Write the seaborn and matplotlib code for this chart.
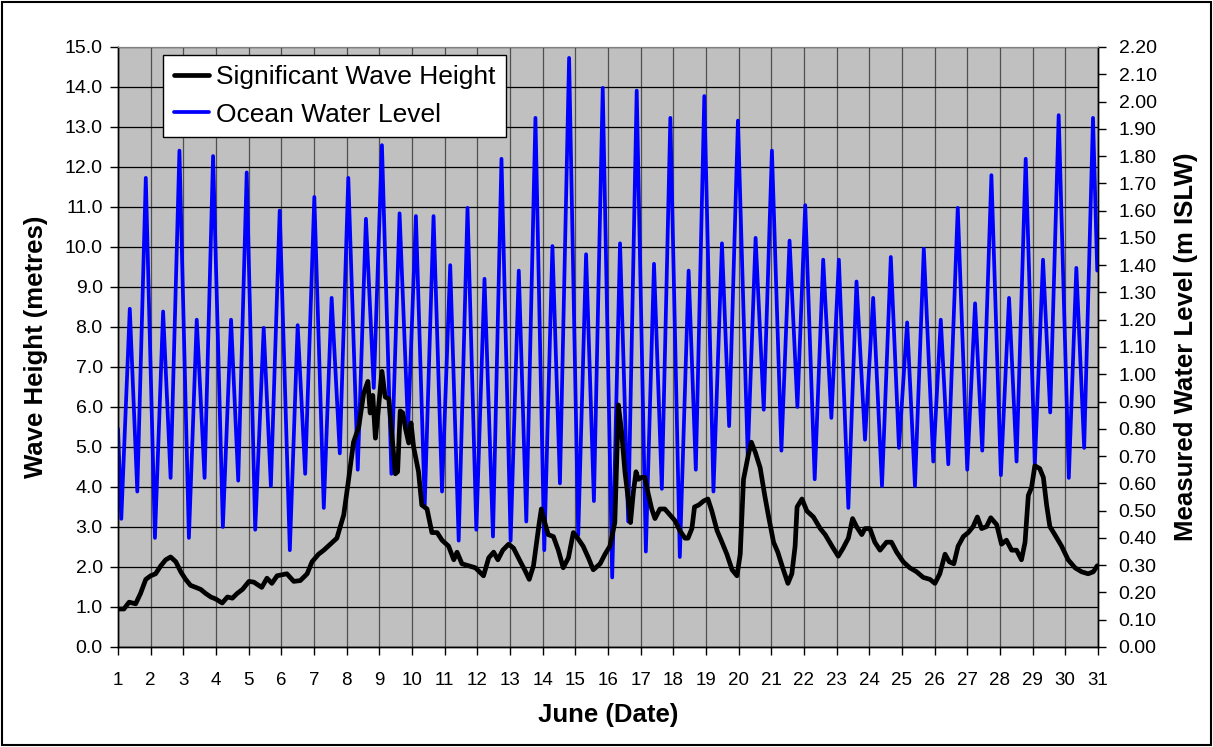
import matplotlib
matplotlib.use("Agg")
import matplotlib.pyplot as plt
import numpy as np
import pandas as pd
import seaborn as sns
from matplotlib.patches import Rectangle
from matplotlib.ticker import FormatStrFormatter, MultipleLocator

# Significant wave height (metres)
wave_day = [1.0, 1.18, 1.34, 1.54, 1.69, 1.85, 2.0, 2.15, 2.31, 2.46, 2.61, 2.77, 2.92,
            3.07, 3.22, 3.38, 3.53, 3.68, 3.84, 3.99, 4.19, 4.35, 4.5, 4.65, 4.81,
            5.01, 5.16, 5.4, 5.56, 5.71, 5.87, 6.17, 6.38, 6.58, 6.79, 6.94, 7.14,
            7.3, 7.5, 7.7, 7.91, 8.06, 8.21, 8.37, 8.52, 8.65, 8.72, 8.8, 8.88, 8.96,
            9.08, 9.18, 9.29, 9.49, 9.56, 9.64, 9.72, 9.8, 9.9, 9.97, 10.05, 10.2,
            10.3, 10.46, 10.61, 10.77, 10.92, 11.12, 11.28, 11.38, 11.53, 11.73,
            11.94, 12.19, 12.35, 12.5, 12.63, 12.78, 12.96, 13.11, 13.32, 13.45,
            13.59, 13.72, 13.88, 13.96, 14.07, 14.17, 14.33, 14.48, 14.63, 14.79,
            14.94, 15.04, 15.24, 15.4, 15.55, 15.76, 15.91, 16.06, 16.21, 16.32,
            16.42, 16.52, 16.62, 16.69, 16.78, 16.86, 16.93, 17.03, 17.13, 17.23,
            17.34, 17.44, 17.59, 17.74, 17.9, 18.05, 18.2, 18.36, 18.45, 18.57,
            18.65, 18.78, 18.93, 19.06, 19.18, 19.34, 19.49, 19.64, 19.8, 19.95,
            20.05, 20.15, 20.29, 20.39, 20.51, 20.66, 20.8, 20.92, 21.07, 21.2,
            21.35, 21.51, 21.63, 21.73, 21.79, 21.94, 22.09, 22.29, 22.5, 22.65,
            22.86, 23.05, 23.2, 23.36, 23.49, 23.61, 23.77, 23.87, 24.02, 24.17,
            24.33, 24.53, 24.68, 24.84, 25.04, 25.24, 25.45, 25.65, 25.86, 26.01,
            26.16, 26.32, 26.45, 26.59, 26.72, 26.88, 27.03, 27.18, 27.31, 27.44,
            27.59, 27.72, 27.9, 28.05, 28.2, 28.36, 28.51, 28.66, 28.77, 28.87,
            28.97, 29.07, 29.22, 29.33, 29.43, 29.53, 29.68, 29.89, 30.09, 30.3,
            30.5, 30.7, 30.86, 30.98]
wave_height = [0.95, 0.95, 1.12, 1.08, 1.34, 1.69, 1.78, 1.83, 2.03, 2.18, 2.25, 2.13, 1.88,
               1.69, 1.54, 1.49, 1.44, 1.34, 1.25, 1.2, 1.1, 1.25, 1.22, 1.34, 1.44,
               1.64, 1.62, 1.49, 1.72, 1.59, 1.78, 1.83, 1.64, 1.66, 1.83, 2.13, 2.32,
               2.42, 2.57, 2.72, 3.3, 4.19, 5.12, 5.5, 6.34, 6.64, 5.85, 6.29, 5.22, 5.85,
               6.89, 6.25, 6.2, 4.33, 4.38, 5.9, 5.85, 5.46, 5.1, 5.6, 5.0, 4.38,
               3.55, 3.45, 2.86, 2.86, 2.67, 2.52, 2.18, 2.37, 2.08, 2.03,
               1.98, 1.78, 2.23, 2.37, 2.18, 2.42, 2.57, 2.47, 2.13, 1.93,
               1.69, 2.03, 3.01, 3.45, 3.1, 2.81, 2.76, 2.42, 1.98, 2.23,
               2.86, 2.76, 2.52, 2.23, 1.93, 2.08, 2.32, 2.52, 3.11, 6.05,
               5.36, 4.38, 3.7, 3.11, 3.89, 4.38, 4.19, 4.24, 4.24, 3.84,
               3.45, 3.21, 3.45, 3.45, 3.3, 3.16, 2.91, 2.72, 2.72, 2.96,
               3.5, 3.55, 3.65, 3.7, 3.4, 2.91, 2.62, 2.32, 1.93, 1.78,
               2.32, 4.19, 4.77, 5.12, 4.87, 4.48, 3.79, 3.25, 2.62, 2.37,
               1.98, 1.59, 1.83, 2.52, 3.5, 3.7, 3.4, 3.25, 2.96, 2.81,
               2.52, 2.27, 2.47, 2.72, 3.21, 3.01, 2.81, 2.96, 2.96, 2.62,
               2.42, 2.62, 2.62, 2.37, 2.13, 1.98, 1.88, 1.74, 1.69, 1.59,
               1.83, 2.32, 2.13, 2.08, 2.52, 2.76, 2.86, 3.01, 3.25, 2.96,
               3.01, 3.23, 3.06, 2.57, 2.67, 2.42, 2.42, 2.18, 2.62, 3.79,
               3.99, 4.53, 4.46, 4.24, 3.55, 3.01, 2.81, 2.52, 2.18, 1.98,
               1.88, 1.83, 1.88, 2.03]

# Ocean water level (m ISLW), highs and lows
tide_day = [1.0, 1.1, 1.36, 1.59, 1.85, 2.13, 2.38, 2.61, 2.88, 3.17, 3.41, 3.65, 3.91,
            4.21, 4.46, 4.68, 4.94, 5.2, 5.46, 5.68, 5.95, 6.26, 6.5, 6.73, 7.01,
            7.3, 7.54, 7.79, 8.05, 8.34, 8.59, 8.83, 9.08, 9.37, 9.62, 9.88, 10.12,
            10.39, 10.66, 10.92, 11.17, 11.43, 11.7, 11.97, 12.22, 12.48, 12.74,
            13.02, 13.27, 13.5, 13.78, 14.05, 14.3, 14.53, 14.81, 15.09, 15.33,
            15.57, 15.84, 16.13, 16.37, 16.62, 16.88, 17.16, 17.41, 17.65, 17.91,
            18.2, 18.47, 18.69, 18.95, 19.23, 19.49, 19.71, 19.98, 20.28, 20.52,
            20.77, 21.02, 21.31, 21.56, 21.8, 22.04, 22.33, 22.59, 22.84, 23.07,
            23.36, 23.61, 23.87, 24.12, 24.39, 24.66, 24.91, 25.16, 25.4, 25.67,
            25.96, 26.19, 26.42, 26.71, 27.0, 27.24, 27.46, 27.74, 28.03, 28.28,
            28.51, 28.79, 29.07, 29.32, 29.54, 29.8, 30.11, 30.34, 30.58, 30.85,
            30.98]
tide_level = [0.80, 0.47, 1.24, 0.57, 1.72, 0.40, 1.23, 0.62, 1.82, 0.40, 1.20, 0.62, 1.80,
              0.44, 1.20, 0.61, 1.74, 0.43, 1.17, 0.59, 1.60, 0.355, 1.18, 0.635, 1.65,
              0.51, 1.28, 0.71, 1.72, 0.65, 1.57, 0.95, 1.84, 0.635, 1.59, 0.80, 1.58,
              0.52, 1.58, 0.57, 1.40, 0.39, 1.61, 0.43, 1.35, 0.405, 1.79,
              0.39, 1.38, 0.46, 1.94, 0.355, 1.47, 0.60, 2.16, 0.41, 1.44,
              0.535, 2.05, 0.255, 1.48, 0.46, 2.04, 0.35, 1.405, 0.58, 1.94,
              0.33, 1.38, 0.65, 2.02, 0.57, 1.48, 0.81, 1.93, 0.70, 1.50,
              0.87, 1.82, 0.72, 1.49, 0.88, 1.62, 0.615, 1.42, 0.84, 1.42,
              0.51, 1.34, 0.76, 1.28, 0.59, 1.43, 0.73, 1.19, 0.59, 1.46,
              0.68, 1.20, 0.67, 1.61, 0.65, 1.26, 0.72, 1.73, 0.63, 1.28,
              0.68, 1.79, 0.67, 1.42, 0.86, 1.95, 0.62, 1.39, 0.73, 1.94,
              1.38]

wave_df = pd.DataFrame({"day": wave_day, "height": wave_height})
tide_df = pd.DataFrame({"day": tide_day, "level": tide_level})

sns.set_style("white")
plt.rcParams["font.family"] = ["Liberation Sans", "DejaVu Sans"]
plt.rcParams["text.color"] = "black"
plt.rcParams["axes.labelcolor"] = "black"
plt.rcParams["xtick.color"] = "black"
plt.rcParams["ytick.color"] = "black"

fig = plt.figure(figsize=(12.13, 7.47), dpi=100)
ax = fig.add_axes([0.0973, 0.1339, 0.8078, 0.8032])
ax2 = ax.twinx()

ax.set_facecolor("#C0C0C0")
ax.set_axisbelow(True)
ax.yaxis.grid(True, color="black", linewidth=0.9)
ax.xaxis.grid(True, color="#505050", linewidth=0.9)

# blue tide on secondary axis, black wave height drawn on top of it
sns.lineplot(data=tide_df, x="day", y="level", ax=ax2, color="#0000FF",
             linewidth=2.7, sort=False, estimator=None, label="Ocean Water Level",
             legend=False)
sns.lineplot(data=wave_df, x="day", y="height", ax=ax2, color="black",
             linewidth=3.4, sort=False, estimator=None, transform=ax.transData,
             label="Significant Wave Height", legend=False)

ax.set_xlim(1, 31)
ax.set_ylim(0, 15)
ax2.set_ylim(0, 2.2)
ax2.set_xlim(1, 31)

ax.xaxis.set_major_locator(MultipleLocator(1))
ax.yaxis.set_major_locator(MultipleLocator(1))
ax.yaxis.set_major_formatter(FormatStrFormatter("%.1f"))
ax2.yaxis.set_major_locator(MultipleLocator(0.1))
ax2.yaxis.set_major_formatter(FormatStrFormatter("%.2f"))

ax.tick_params(axis="y", direction="out", length=6, width=1, color="black",
               labelsize=14, left=True, pad=5)
ax.tick_params(axis="x", direction="out", length=6, width=1, color="black",
               labelsize=13.5, bottom=True, pad=12)
ax2.tick_params(axis="y", direction="out", length=6, width=1, color="black",
                labelsize=14, right=True, pad=9)

ax.set_xlabel("June (Date)", fontsize=18.5, fontweight="bold", labelpad=10)
ax.set_ylabel("Wave Height (metres)", fontsize=18.5, fontweight="bold", labelpad=12)
ax2.set_ylabel("Measured Water Level (m ISLW)", fontsize=18.5, fontweight="bold",
               labelpad=12)

for a in (ax, ax2):
    for side in ("left", "right", "bottom"):
        a.spines[side].set_color("black")
        a.spines[side].set_linewidth(1)
    a.spines["top"].set_color("#808080")

handles, labels = ax2.get_legend_handles_labels()
leg = ax2.legend(handles[::-1], labels[::-1], loc="upper left",
                 bbox_to_anchor=(0.046, 0.987), borderaxespad=0, fontsize=19,
                 frameon=True, fancybox=False, framealpha=1, edgecolor="black",
                 handlelength=1.35, handletextpad=0.25, labelspacing=0.5,
                 borderpad=0.4)
leg.get_frame().set_linewidth(1)

# thin black frame round the whole picture
fig.patches.append(Rectangle((2 / 1213, 2 / 747), 1209 / 1213, 743 / 747,
                             transform=fig.transFigure, fill=False,
                             edgecolor="black", linewidth=1.5))

fig.savefig("out.png", dpi=100, facecolor="white")
